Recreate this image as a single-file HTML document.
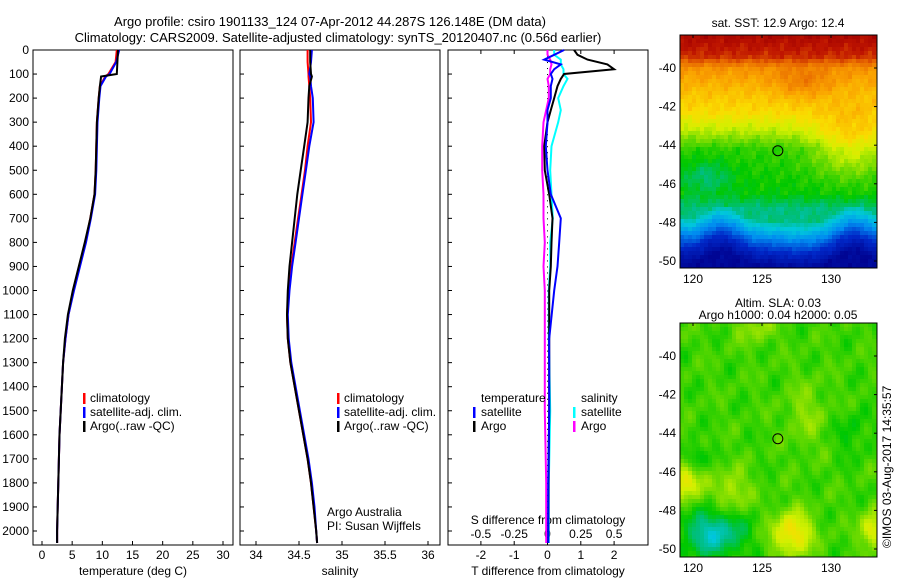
<!DOCTYPE html>
<html><head><meta charset="utf-8"><style>
body{margin:0;background:#fff}
svg text{font-family:"Liberation Sans",sans-serif;font-size:12px;fill:#000}
</style></head><body>
<svg id="s" width="900" height="580" xmlns="http://www.w3.org/2000/svg">
<text x="330" y="26" text-anchor="middle" style="font-size:13px">Argo profile: csiro 1901133_124 07-Apr-2012 44.287S 126.148E (DM data)</text>
<text x="338" y="42" text-anchor="middle" style="font-size:13px">Climatology: CARS2009. Satellite-adjusted climatology: synTS_20120407.nc (0.56d earlier)</text>
</svg>
<script>
const depths=[0,50,100,110,150,200,300,400,500,600,700,800,900,1000,1100,1200,1300,1400,1500,1600,1700,1800,1900,2000,2050];
const tClim=[12.4,12.2,11.0,10.5,9.6,9.4,9.1,9.0,8.9,8.7,8.0,7.2,6.2,5.2,4.4,3.9,3.5,3.3,3.1,2.9,2.8,2.7,2.6,2.5,2.5];
const tSat=[12.8,12.3,11.2,10.6,9.7,9.5,9.2,9.1,9.0,8.8,8.1,7.3,6.3,5.3,4.4,3.9,3.5,3.3,3.1,2.9,2.8,2.7,2.6,2.5,2.5];
const tArgo=[12.6,12.5,12.4,9.8,9.6,9.4,9.1,9.0,8.9,8.7,8.0,7.1,6.1,5.1,4.3,3.8,3.5,3.3,3.1,2.9,2.8,2.7,2.6,2.5,2.5];
const sClim=[34.60,34.60,34.61,34.61,34.62,34.63,34.64,34.60,34.57,34.53,34.49,34.45,34.41,34.38,34.36,34.37,34.40,34.45,34.50,34.55,34.60,34.64,34.67,34.70,34.71];
const sSat=[34.65,34.64,34.62,34.63,34.64,34.66,34.67,34.62,34.58,34.54,34.50,34.46,34.42,34.39,34.37,34.38,34.41,34.46,34.51,34.56,34.61,34.65,34.68,34.70,34.71];
const sArgo=[34.63,34.63,34.64,34.65,34.62,34.61,34.60,34.56,34.52,34.48,34.45,34.42,34.39,34.37,34.36,34.37,34.40,34.45,34.50,34.55,34.60,34.64,34.67,34.70,34.71];
const dDepth=[0,20,40,60,80,100,120,150,200,250,300,400,500,600,700,800,900,1000,1200,1500,1800,2050];
const dTsat=[0.5,0.2,-0.1,0.4,0.2,0.1,0.15,0.1,0.1,0.0,0.0,-0.05,0.0,0.1,0.4,0.35,0.3,0.2,0.05,0.05,0.02,0.02];
const dTargo=[0.8,0.9,1.2,1.8,2.0,0.5,0.4,0.3,0.2,0.1,0.0,-0.1,-0.08,0.05,0.15,0.12,0.1,0.05,0.05,0.05,0.03,0.02];
const dSsat=[0.05,0.05,0.1,0.1,0.12,0.12,0.15,0.12,0.08,0.1,0.08,0.03,0.02,0.03,0.04,0.02,0.02,0.01,0.01,0.02,0.01,0.01];
const dSargo=[0.0,0.0,0.02,0.03,0.02,0.02,0.0,0.01,0.01,-0.01,-0.03,-0.04,-0.04,-0.03,-0.03,-0.02,-0.03,-0.02,-0.02,-0.02,-0.01,-0.01];
const depthTicks=[0,100,200,300,400,500,600,700,800,900,1000,1100,1200,1300,1400,1500,1600,1700,1800,1900,2000];
const tTicks=[0,5,10,15,20,25,30];
const sTicks=[34,34.5,35,35.5,36];
const dTTicks=[-2,-1,0,1,2];
const dSTicks=["-0.5","-0.25","0","0.25","0.5"];
const latTicks=[-40,-42,-44,-46,-48,-50];
const lonTicks=[120,125,130];

const S=document.getElementById('s');const NS='http://www.w3.org/2000/svg';
function mk(t,a,txt){const e=document.createElementNS(NS,t);for(const k in a)e.setAttribute(k,a[k]);if(txt!==undefined)e.textContent=txt;S.appendChild(e);return e;}
const Y0=50,Y1=545;
const yD=d=>Y0+d*(531-Y0)/2000;
function panel(x0,x1,name){const r=mk('rect',{x:x0,y:Y0,width:x1-x0,height:Y1-Y0,fill:'none',stroke:'#000','stroke-width':1});
 depthTicks.forEach(d=>{const l=mk('line',{x1:x0,x2:x0+4,y1:yD(d),y2:yD(d),stroke:'#000'});});}
function line(xs,ys,fx,col,name,w){const p=xs.map((v,i)=>fx(v).toFixed(1)+','+yD(ys[i]).toFixed(1)).join(' ');const e=mk('polyline',{points:p,fill:'none',stroke:col,'stroke-width':w||2});}
// panel 1
const xT=v=>42+v*(223-42)/30;
panel(33,233,'temperature-panel');
depthTicks.forEach(d=>{const t=mk('text',{x:29,y:yD(d)+4,'text-anchor':'end'},d);});
tTicks.forEach(v=>{const l=mk('line',{x1:xT(v),x2:xT(v),y1:Y1,y2:Y1-4,stroke:'#000'});
 const t=mk('text',{x:xT(v),y:559,'text-anchor':'middle'},v);});
let t=mk('text',{x:133,y:575,'text-anchor':'middle'},'temperature (deg C)');
line(tClim,depths,xT,'#f00','temperature-climatology-line');
line(tSat,depths,xT,'#00f','temperature-satellite-line');
line(tArgo,depths,xT,'#000','temperature-argo-line');
function legend(x,y,pfx){[['#f00','climatology'],['#00f','satellite-adj. clim.'],['#000','Argo(..raw -QC)']].forEach((it,i)=>{
 const l=mk('rect',{x:x,y:y+i*14-9,width:2.5,height:11,fill:it[0]});
 const tt=mk('text',{x:x+7,y:y+i*14},it[1]);});}
legend(83,402,'temperature');
// panel 2
const xS=v=>256+(v-34)*(428-256)/2;
panel(240,440,'salinity-panel');
sTicks.forEach(v=>{const l=mk('line',{x1:xS(v),x2:xS(v),y1:Y1,y2:Y1-4,stroke:'#000'});
 const tt=mk('text',{x:xS(v),y:559,'text-anchor':'middle'},v);});
t=mk('text',{x:340,y:575,'text-anchor':'middle'},'salinity');
line(sClim,depths,xS,'#f00','salinity-climatology-line');
line(sSat,depths,xS,'#00f','salinity-satellite-line');
line(sArgo,depths,xS,'#000','salinity-argo-line');
legend(337,402,'salinity');
t=mk('text',{x:327,y:516},'Argo Australia');
t=mk('text',{x:327,y:530},'PI: Susan Wijffels');
// panel 3
const xDT=v=>547.5+v*33.3;const xDS=v=>547.5+v*133.2;
panel(448,648,'difference-panel');
for(let d=0;d<=2000;d+=25){const e=mk('rect',{x:547,y:yD(d),width:1,height:1,fill:'#000'});}
dTTicks.forEach(v=>{const l=mk('line',{x1:xDT(v),x2:xDT(v),y1:Y1,y2:Y1-4,stroke:'#000'});
 const l2=mk('line',{x1:xDT(v),x2:xDT(v),y1:Y0,y2:Y0+4,stroke:'#000'});
 const tt=mk('text',{x:xDT(v),y:559,'text-anchor':'middle'},v);});
dSTicks.forEach(v=>{const tt=mk('text',{x:xDS(parseFloat(v)),y:538,'text-anchor':'middle'},v);});
t=mk('text',{x:548,y:524,'text-anchor':'middle'},'S difference from climatology');
t=mk('text',{x:548,y:575,'text-anchor':'middle'},'T difference from climatology');
line(dSargo,dDepth,xDS,'#f0f','s-diff-argo-line');
line(dSsat,dDepth,xDS,'#0ff','s-diff-satellite-line');
line(dTargo,dDepth,xDT,'#000','t-diff-argo-line');
line(dTsat,dDepth,xDT,'#00f','t-diff-satellite-line');
[[481,402,null,'temperature'],[581,402,null,'salinity'],[481,416,'#00f','satellite'],[481,430,'#000','Argo'],[581,416,'#0ff','satellite'],[581,430,'#f0f','Argo']].forEach(it=>{
 if(it[2]){const m=mk('rect',{x:it[0]-8,y:it[1]-9,width:2.5,height:11,fill:it[2]});}
 const tt=mk('text',{x:it[0],y:it[1]},it[3]);});
// maps
const cmStops=[0.1,0.2,0.3,0.38,0.45,0.52,0.6,0.66,0.72,0.8,0.88,0.95,1.0];
const cmCols=[[0,0,140],[0,40,200],[0,140,240],[0,200,220],[0,190,130],[0,200,0],[120,220,0],[210,240,0],[250,220,0],[250,160,0],[230,100,0],[190,20,0],[160,0,0]];
function cmap(v){v=Math.max(0.1,Math.min(1,v));for(let i=1;i<cmStops.length;i++)if(v<=cmStops[i]){const f=(v-cmStops[i-1])/(cmStops[i]-cmStops[i-1]);const a=cmCols[i-1],b=cmCols[i];return `rgb(${Math.round(a[0]+(b[0]-a[0])*f)},${Math.round(a[1]+(b[1]-a[1])*f)},${Math.round(a[2]+(b[2]-a[2])*f)})`;}return 'rgb(160,0,0)';}
function noise(x,y){return (Math.sin(x*2.31+y*1.17)+Math.sin(x*3.73-y*2.91+1.3)+Math.sin(x*5.13+y*4.07+2.1)+Math.sin(-x*1.37+y*3.31+0.7))/4;}
function gauss(lon,lat,cx,cy,sx,sy,a){return a*Math.exp(-((lon-cx)*(lon-cx))/(2*sx*sx)-((lat-cy)*(lat-cy))/(2*sy*sy));}
function interp(xs,ys,x){if(x<=xs[0])return ys[0];for(let i=1;i<xs.length;i++)if(x<=xs[i])return ys[i-1]+(ys[i]-ys[i-1])*(x-xs[i-1])/(xs[i]-xs[i-1]);return ys[ys.length-1];}
function map(y0,y1,name,field,title1,title2){
 const x0=680,x1=877,ppdLon=13.8,ppdLat=19.3;
 const yl=l=>(y0+33)+(-l-40)*ppdLat;const xl=l=>693+(l-120)*ppdLon;
 const g=document.createElementNS(NS,'g');S.appendChild(g);
 const c=4;for(let y=y0;y<y1;y+=c)for(let x=x0;x<x1;x+=c){const lon=120+(x+c/2-693)/ppdLon,lat=-40-(y+c/2-y0-33)/ppdLat;
  const r=document.createElementNS(NS,'rect');r.setAttribute('x',x);r.setAttribute('y',y);r.setAttribute('width',Math.min(c,x1-x));r.setAttribute('height',Math.min(c,y1-y));r.setAttribute('fill',cmap(field(lon,lat)));g.appendChild(r);}
 mk('rect',{x:x0,y:y0,width:x1-x0,height:y1-y0,fill:'none',stroke:'#000'});
 latTicks.forEach(l=>{const tt=mk('text',{x:676,y:yl(l)+4,'text-anchor':'end'},l);
  mk('line',{x1:x1,x2:x1-3,y1:yl(l),y2:yl(l),stroke:'#000'});});
 lonTicks.forEach(l=>{const tt=mk('text',{x:xl(l),y:y1+15,'text-anchor':'middle'},l);
  mk('line',{x1:xl(l),x2:xl(l),y1:y0,y2:y0+3,stroke:'#000'});});
 const cc=mk('circle',{cx:xl(126.148),cy:yl(-44.287),r:5,fill:'none',stroke:'#000'});
 let tt=mk('text',{x:778,y:title2?y0-16:y0-8,'text-anchor':'middle'},title1);
 if(title2){tt=mk('text',{x:778,y:y0-4,'text-anchor':'middle'},title2);}
}
map(35,268,'sst-map',(lon,lat)=>{
 const blueEdge=-48.2-0.9*Math.exp(-((lon-127)*(lon-127))/3)+0.3*Math.sin(lon*1.3);
 const d=-lat;
 let v=interp([38.3,39.4,40,41.2,42.3,43.3,44.2,46.5,47.3],[0.98,0.93,0.82,0.76,0.72,0.64,0.55,0.52,0.45],d);
 v+=gauss(lon,lat,131.5,-44,2,1.2,0.12)+gauss(lon,lat,121,-45.6,1.3,0.6,-0.07)+gauss(lon,lat,128,-40.8,1.5,0.6,0.06);
 v+=0.03*noise(lon*1.8,lat*1.8);
 if(lat<blueEdge+0.7){v=interp([0,0.7,1.5,2.3],[0.42,0.32,0.2,0.12],blueEdge+0.7-lat);v+=0.02*noise(lon*2,lat*2);}
 return v;},'sat. SST: 12.9 Argo: 12.4');
map(323,557,'sla-map',(lon,lat)=>{let v=0.56+0.04*noise(lon*0.9,lat*0.9);
 v+=gauss(lon,lat,121.5,-49.2,1.5,0.8,-0.16)+gauss(lon,lat,119.5,-46.5,0.8,0.7,0.14)+gauss(lon,lat,122.8,-47,0.9,0.8,0.08)+gauss(lon,lat,127.2,-49.2,1,0.8,0.16)+gauss(lon,lat,133,-49,0.6,0.6,0.14)+gauss(lon,lat,120.2,-45.3,0.5,0.5,-0.08)+gauss(lon,lat,124.5,-38.5,1,0.6,0.06)+gauss(lon,lat,128.2,-43,1,1.2,0.05)+gauss(lon,lat,131.5,-44,0.8,0.8,-0.04);
 return v;},'Altim. SLA: 0.03','Argo h1000: 0.04 h2000: 0.05');
t=mk('text',{x:0,y:0,transform:'translate(891,548) rotate(-90)'},'©IMOS 03-Aug-2017 14:35:57');
</script>
</body></html>
